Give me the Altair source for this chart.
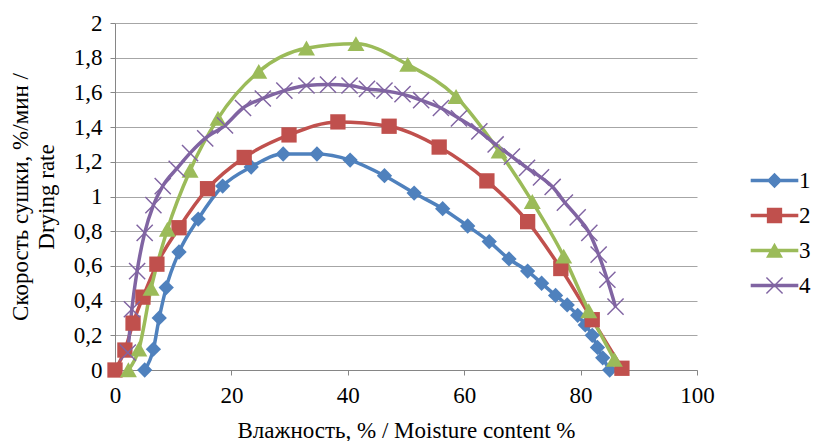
import altair as alt
import pandas as pd
import math

# ---- data ----
series_names = ["1", "2", "3", "4"]

x1 = [5.1, 6.6, 7.6, 8.8, 11.0, 14.3, 18.5, 23.4, 28.9, 34.7, 40.4, 46.3, 51.4, 56.3,
      60.6, 64.3, 67.7, 70.9, 73.3, 75.7, 77.7, 79.5, 80.8, 82.0, 82.9, 83.8, 85.0]
y1 = [0.0, 0.12, 0.30, 0.475, 0.68, 0.87, 1.06, 1.17, 1.245, 1.245, 1.21, 1.12, 1.02, 0.93,
      0.83, 0.74, 0.64, 0.57, 0.50, 0.43, 0.375, 0.315, 0.26, 0.20, 0.13, 0.07, 0.0]

x2 = [0.0, 1.7, 3.1, 4.8, 7.2, 11.0, 15.9, 22.2, 29.9, 38.3, 47.1, 55.7, 63.9, 70.9, 76.6, 82.0, 87.1]
y2 = [0.0, 0.115, 0.27, 0.42, 0.61, 0.82, 1.045, 1.225, 1.355, 1.43, 1.405, 1.285, 1.09, 0.855,
      0.585, 0.29, 0.01]

x3 = [2.3, 4.1, 6.2, 9.0, 12.9, 17.7, 24.7, 32.9, 41.4, 50.3, 58.6, 66.0, 71.7, 77.1, 81.4, 85.8]
y3 = [0.0, 0.12, 0.47, 0.81, 1.15, 1.45, 1.72, 1.855, 1.88, 1.76, 1.575, 1.26, 0.97, 0.655, 0.34, 0.06]

x4 = [2.2, 2.9, 3.8, 5.1, 6.6, 8.2, 10.6, 12.9, 15.5, 18.9, 22.0, 25.4, 29.1, 32.9, 36.6, 40.3,
      43.3, 46.3, 49.4, 52.6, 56.0, 59.1, 62.6, 65.4, 68.2, 70.8, 73.2, 75.2, 77.3, 79.5, 81.5,
      83.1, 84.6, 86.0]
y4 = [0.10, 0.35, 0.57, 0.79, 0.95, 1.06, 1.16, 1.25, 1.335, 1.41, 1.51, 1.565, 1.61, 1.64,
      1.645, 1.64, 1.62, 1.61, 1.59, 1.555, 1.51, 1.45, 1.375, 1.30, 1.23, 1.165, 1.11, 1.055,
      0.965, 0.88, 0.79, 0.665, 0.52, 0.365]

x_ticks = [0, 20, 40, 60, 80, 100]
y_ticks = [0, 0.2, 0.4, 0.6, 0.8, 1.0, 1.2, 1.4, 1.6, 1.8, 2.0]

x_title = "Влажность, % / Moisture content %"
y_title = ["Скорость сушки, %/мин /", "Drying rate"]

colors = ["#4F81BD", "#C0504D", "#9BBB59", "#8064A2"]

rows = []
for name, xs, ys in zip(series_names, [x1, x2, x3, x4], [y1, y2, y3, y4]):
    for xv, yv in zip(xs, ys):
        rows.append({"series": name, "x": xv, "y": yv})
df = pd.DataFrame(rows)

# ---- marker paths (unit = sqrt(size)/2 px) ----
def rect(x0, y0, x1_, y1_):
    return f"M{x0},{y0}L{x1_},{y0}L{x1_},{y1_}L{x0},{y1_}Z"

def xarms(r, t):
    p = t / math.sqrt(2)
    a1 = f"M{-r+p:.3f},{-r-p:.3f}L{r+p:.3f},{r-p:.3f}L{r-p:.3f},{r+p:.3f}L{-r-p:.3f},{-r+p:.3f}Z"
    a2 = f"M{r+p:.3f},{-r+p:.3f}L{-r+p:.3f},{r+p:.3f}L{-r-p:.3f},{r-p:.3f}L{r-p:.3f},{-r-p:.3f}Z"
    return a1 + a2

diamond = "M0,-0.9L0.9,0L0,0.9L-0.9,0Z"
square = rect(-0.9, -0.9, 0.9, 0.9)
triangle = "M0,-0.9L1,0.85L-1,0.85Z"
cross = xarms(0.95, 0.085)
marker_paths = [diamond, square, triangle, cross]

FS = 23
MSIZE = 289          # marker unit = 8.5 px
line_bar = rect(-2.8, -0.21, 2.8, 0.21)
legend_paths = [line_bar + m for m in marker_paths]

FONT = "'Liberation Serif', 'Times New Roman', 'DejaVu Serif', serif"

color_scale = alt.Scale(domain=series_names, range=colors)

base = alt.Chart(df).encode(
    x=alt.X("x:Q", scale=alt.Scale(domain=[0, 100], nice=False),
            axis=alt.Axis(values=x_ticks, grid=False, title=x_title, labelFlush=False,
                          labelPadding=9, titlePadding=12)),
    y=alt.Y("y:Q", scale=alt.Scale(domain=[0, 2], nice=False),
            axis=alt.Axis(values=y_ticks, grid=True, title=y_title,
                          labelExpr="replace(format(datum.value, '~g'), '.', ',')",
                          labelPadding=8, titlePadding=15)),
)

lines = base.mark_line(strokeWidth=3.5, interpolate="monotone").encode(
    color=alt.Color("series:N", scale=color_scale, legend=None),
    detail="series:N",
)

points = base.mark_point(filled=True, opacity=1, size=MSIZE, strokeWidth=0).encode(
    color=alt.Color("series:N", scale=color_scale, legend=None),
    shape=alt.Shape("series:N", scale=alt.Scale(domain=series_names, range=marker_paths),
                    legend=None),
)

leg = alt.Legend(title=None, orient="none", legendX=648, legendY=146,
                 symbolSize=MSIZE, labelOffset=13, rowPadding=11, padding=0)

legend_layer = base.mark_point(filled=True, opacity=1, size=MSIZE, strokeWidth=0).encode(
    color=alt.Color("series:N", scale=color_scale, legend=leg),
    shape=alt.Shape("series:N", scale=alt.Scale(domain=series_names, range=legend_paths),
                    legend=leg),
).transform_filter("false")

chart = alt.layer(lines, points, legend_layer).resolve_scale(
    shape="independent", color="independent"
).properties(
    width=582, height=347,
    autosize=alt.AutoSizeParams(type="none"),
    padding={"left": 115, "top": 23, "right": 116, "bottom": 71},
).configure(
    font=FONT,
).configure_view(
    stroke=None,
).configure_axis(
    labelFont=FONT, labelFontSize=FS, labelColor="#000000",
    titleFont=FONT, titleFontSize=FS, titleColor="#000000", titleFontWeight="normal",
    domainColor="#868686", tickColor="#868686", tickSize=5, domainWidth=1, tickWidth=1,
    gridColor="#a6a6a6", gridWidth=1, titleLineHeight=26,
).configure_legend(
    labelFont=FONT, labelFontSize=FS, labelColor="#000000",
)

chart.save("out.html", embed_options={"renderer": "svg", "actions": False})
